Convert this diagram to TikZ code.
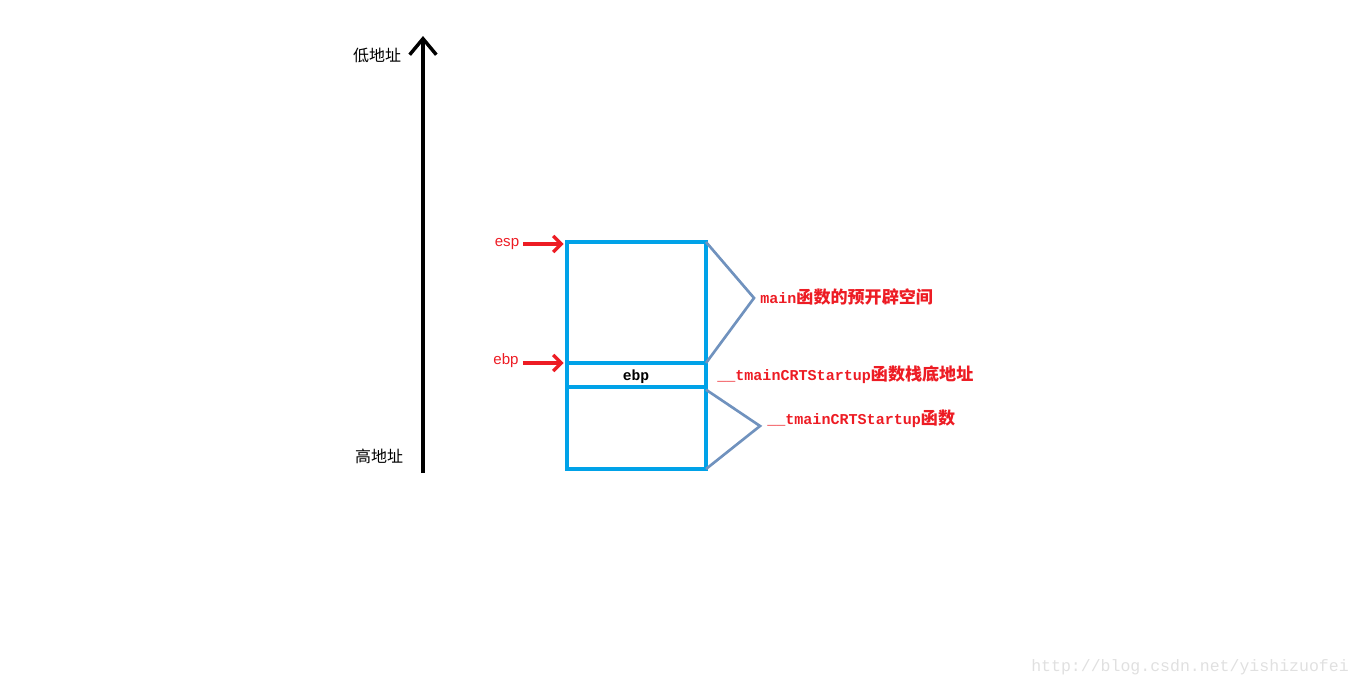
\documentclass[tikz,border=0pt]{standalone}
\usepackage{fontspec}
\setmainfont{Liberation Sans}
\setmonofont{Liberation Mono}
\newfontfamily\cjk{Noto Sans CJK SC}
\usetikzlibrary{arrows.meta}
\definecolor{stackblue}{RGB}{0,162,232}
\definecolor{bracegray}{RGB}{112,146,190}
\definecolor{notered}{RGB}{237,28,36}
\newcommand{\cb}[1]{{\cjk\bfseries\fontsize{12.8}{12.8}\selectfont #1}}

\tikzset{
  cell/.style={draw=stackblue, line width=2.5pt},
  brace/.style={draw=bracegray, line width=2pt},
  axis/.style={draw=black, line width=2.6pt, -{Straight Barb[length=12pt,width=20pt]}},
  pointer/.style={draw=notered, line width=2.6pt, -{Straight Barb[length=6pt,width=12pt]}},
  addr/.style={font=\fontsize{12}{12}\selectfont\cjk, inner sep=0pt},
  reg/.style={text=notered, font=\fontsize{11.3}{11.3}\selectfont, inner sep=0pt},
  note/.style={text=notered, font=\fontsize{11.3}{11.3}\selectfont\ttfamily\bfseries, anchor=west, inner sep=0pt},
}

\begin{document}
\begin{tikzpicture}[x=0.75pt, y=-0.75pt]
  \useasboundingbox (0,0) rectangle (1360,687);

  % address axis
  \coordinate (high) at (423,473);
  \coordinate (low) at (423,36);
  \draw[axis] (high) -- (low);
  \node[addr] (lowaddr) at (377,55) {低地址};
  \node[addr] (highaddr) at (379,456) {高地址};

  % stack frame
  \coordinate (tl) at (567,242);
  \coordinate (tr) at (706,242);
  \coordinate (ml) at (567,363);
  \coordinate (mr) at (706,363);
  \coordinate (nl) at (567,387);
  \coordinate (nr) at (706,387);
  \coordinate (bl) at (567,469);
  \coordinate (br) at (706,469);
  \draw[cell] (tl) rectangle (br);
  \draw[cell] (ml) -- (mr) (nl) -- (nr);
  \node[font=\fontsize{11}{11}\selectfont\ttfamily\bfseries] (saved) at (636,377) {ebp};

  % registers
  \node[reg] (esp) at (507,244) {esp};
  \node[reg] (ebp) at (506,361) {ebp};
  \draw[pointer, shorten <=3pt] (esp.east) -- ([xshift=-2.5pt]esp.east -| tl);
  \draw[pointer, shorten <=3pt] (ebp.east |- ml) -- ([xshift=-2.5pt]ml);

  % brackets
  \coordinate (tip1) at (754,298);
  \coordinate (tip2) at (760,426);
  \draw[brace] (tr) -- (tip1) -- (mr);
  \draw[brace] ([yshift=-2]nr) -- (tip2) -- (br);
  \node[note] (mainspace) at (760,297) {main\cb{函数的预开辟空间}};
  \node[note] (basenote) at (717,375) {\_\_tmainCRTStartup\cb{函数栈底地址}};
  \node[note] (crtnote) at (767,419) {\_\_tmainCRTStartup\cb{函数}};

  \node[font=\fontsize{12.4}{12.4}\selectfont\ttfamily, text=black!12, anchor=east, inner sep=0pt] (mark) at (1349,667) {http://blog.csdn.net/yishizuofei};
\end{tikzpicture}
\end{document}
